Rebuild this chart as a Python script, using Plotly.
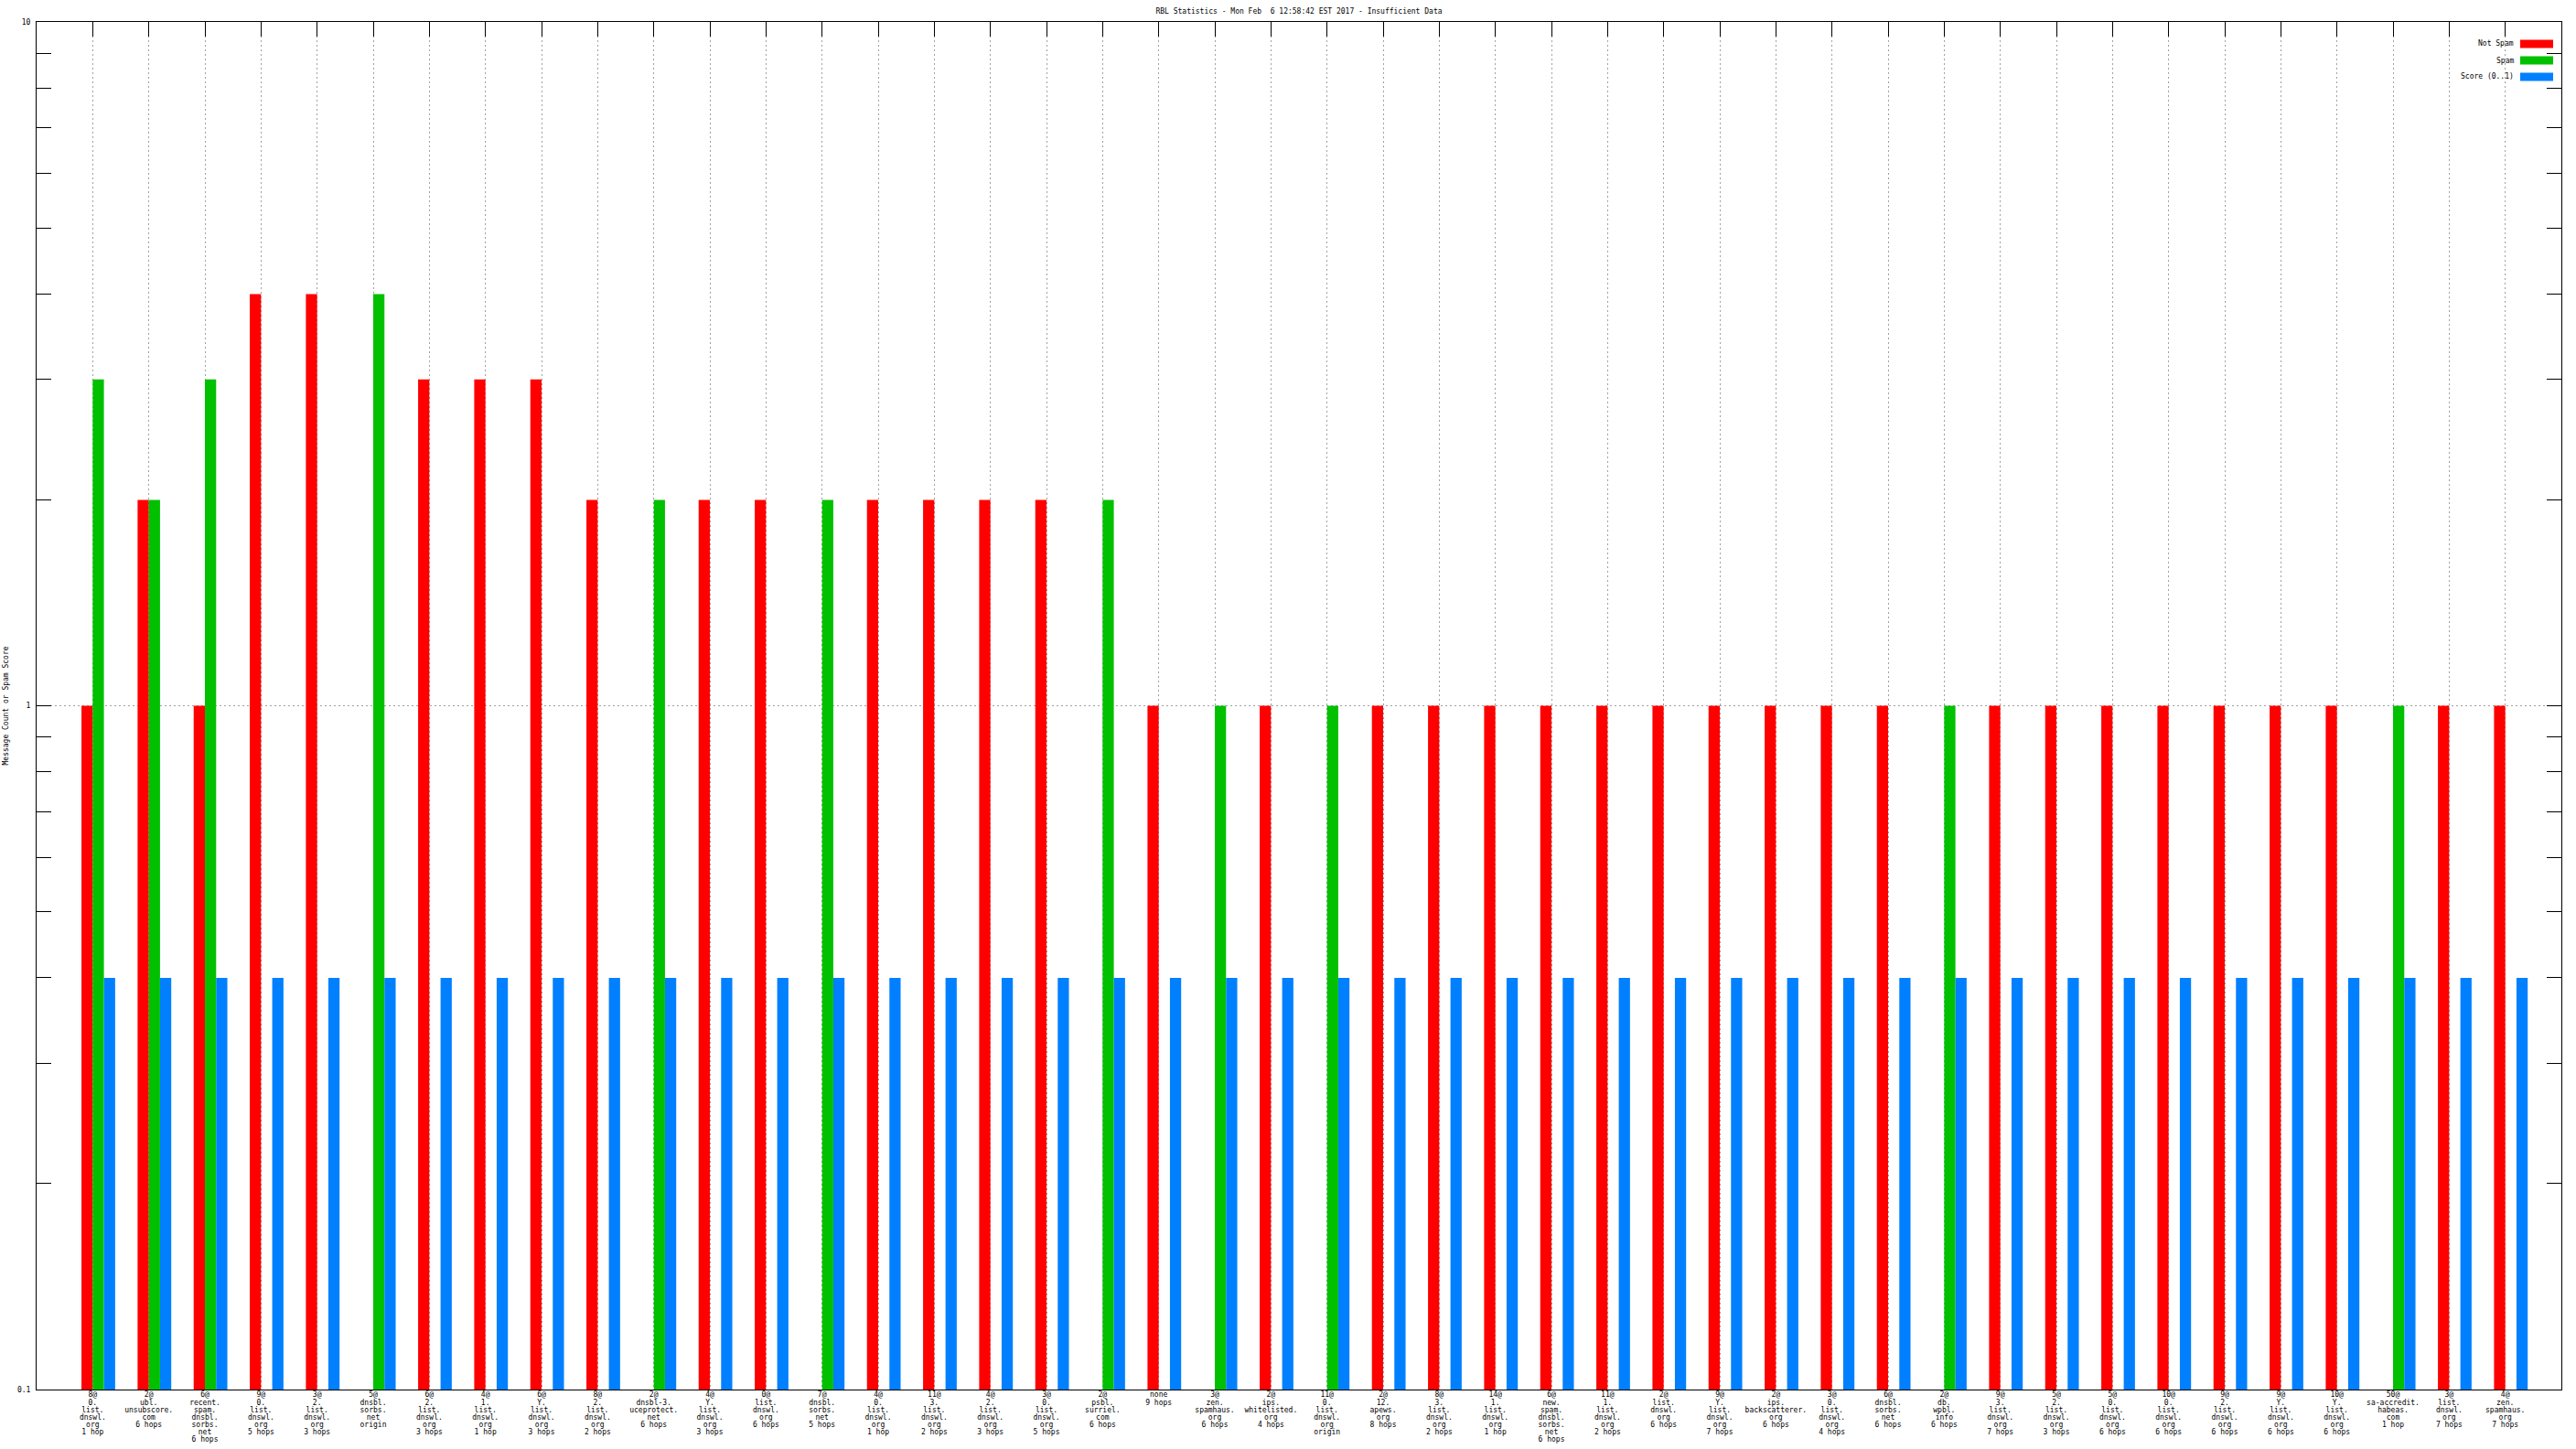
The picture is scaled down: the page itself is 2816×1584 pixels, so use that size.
import plotly.graph_objects as go

# ---------------- data ----------------
categories = [
    "8@\n0.\nlist.\ndnswl.\norg\n1 hop",
    "2@\nubl.\nunsubscore.\ncom\n6 hops",
    "6@\nrecent.\nspam.\ndnsbl.\nsorbs.\nnet\n6 hops",
    "9@\n0.\nlist.\ndnswl.\norg\n5 hops",
    "3@\n2.\nlist.\ndnswl.\norg\n3 hops",
    "5@\ndnsbl.\nsorbs.\nnet\norigin",
    "6@\n2.\nlist.\ndnswl.\norg\n3 hops",
    "4@\n1.\nlist.\ndnswl.\norg\n1 hop",
    "6@\nY.\nlist.\ndnswl.\norg\n3 hops",
    "8@\n2.\nlist.\ndnswl.\norg\n2 hops",
    "2@\ndnsbl-3.\nuceprotect.\nnet\n6 hops",
    "4@\nY.\nlist.\ndnswl.\norg\n3 hops",
    "0@\nlist.\ndnswl.\norg\n6 hops",
    "7@\ndnsbl.\nsorbs.\nnet\n5 hops",
    "4@\n0.\nlist.\ndnswl.\norg\n1 hop",
    "11@\n3.\nlist.\ndnswl.\norg\n2 hops",
    "4@\n2.\nlist.\ndnswl.\norg\n3 hops",
    "3@\n0.\nlist.\ndnswl.\norg\n5 hops",
    "2@\npsbl.\nsurriel.\ncom\n6 hops",
    "none\n9 hops",
    "3@\nzen.\nspamhaus.\norg\n6 hops",
    "2@\nips.\nwhitelisted.\norg\n4 hops",
    "11@\n0.\nlist.\ndnswl.\norg\norigin",
    "2@\n12.\napews.\norg\n8 hops",
    "8@\n3.\nlist.\ndnswl.\norg\n2 hops",
    "14@\n1.\nlist.\ndnswl.\norg\n1 hop",
    "6@\nnew.\nspam.\ndnsbl.\nsorbs.\nnet\n6 hops",
    "11@\n1.\nlist.\ndnswl.\norg\n2 hops",
    "2@\nlist.\ndnswl.\norg\n6 hops",
    "9@\nY.\nlist.\ndnswl.\norg\n7 hops",
    "2@\nips.\nbackscatterer.\norg\n6 hops",
    "3@\n0.\nlist.\ndnswl.\norg\n4 hops",
    "6@\ndnsbl.\nsorbs.\nnet\n6 hops",
    "2@\ndb.\nwpbl.\ninfo\n6 hops",
    "9@\n3.\nlist.\ndnswl.\norg\n7 hops",
    "5@\n2.\nlist.\ndnswl.\norg\n3 hops",
    "5@\n0.\nlist.\ndnswl.\norg\n6 hops",
    "10@\n0.\nlist.\ndnswl.\norg\n6 hops",
    "9@\n2.\nlist.\ndnswl.\norg\n6 hops",
    "9@\nY.\nlist.\ndnswl.\norg\n6 hops",
    "10@\nY.\nlist.\ndnswl.\norg\n6 hops",
    "50@\nsa-accredit.\nhabeas.\ncom\n1 hop",
    "3@\nlist.\ndnswl.\norg\n7 hops",
    "4@\nzen.\nspamhaus.\norg\n7 hops",
]

not_spam = [1, 2, 1, 4, 4, None, 3, 3, 3, 2, None, 2, 2, None, 2, 2, 2, 2, None, 1,
            None, 1, None, 1, 1, 1, 1, 1, 1, 1, 1, 1, 1, None, 1, 1, 1, 1, 1, 1,
            1, None, 1, 1]
spam = [3, 2, 3, None, None, 4, None, None, None, None, 2, None, None, 2, None, None, None, None, 2, None,
        1, None, 1, None, None, None, None, None, None, None, None, None, None, 1, None, None, None, None, None, None,
        None, 1, None, None]
score = [0.4, 0.4, 0.4, 0.4, 0.4, 0.4, 0.4, 0.4, 0.4, 0.4, 0.4, 0.4, 0.4, 0.4, 0.4, 0.4, 0.4, 0.4, 0.4, 0.4,
         0.4, 0.4, 0.4, 0.4, 0.4, 0.4, 0.4, 0.4, 0.4, 0.4, 0.4, 0.4, 0.4, 0.4, 0.4, 0.4, 0.4, 0.4, 0.4, 0.4,
         0.4, 0.4, 0.4, 0.4]

series_names = ["Not Spam", "Spam", "Score (0..1)"]
series_colors = ["#ff0000", "#00c000", "#0080ff"]

y_tick_vals = [0.1, 1, 10]
y_tick_text = ["0.1", "1", "10"]
y_minor_vals = [0.2, 0.3, 0.4, 0.5, 0.6, 0.7, 0.8, 0.9, 2, 3, 4, 5, 6, 7, 8, 9]

title_text = "RBL Statistics - Mon Feb  6 12:58:42 EST 2017 - Insufficient Data"
y_title = "Message Count or Spam Score"

# ---------------- layout constants ----------------
W, H = 2816, 1584
ML, MR, MT, MB = 40, 16, 24, 65
PW, PH = W - ML - MR, H - MT - MB
FONT = "DejaVu Sans Mono"
GRID = "#a0a0a0"


def px_x(p):
    return (p - ML) / PW


def px_y(p):
    return (H - MB - p) / PH


positions = list(range(len(categories)))


def fmt_label(s):
    return "<br>".join("<span style='font-size:8px'>%s</span>" % ln for ln in s.split("\n"))


tick_text = [fmt_label(c) for c in categories]

fig = go.Figure()
bar_w = 0.2
for vals, name, col, off in zip([not_spam, spam, score], series_names, series_colors,
                                [-bar_w, 0.0, bar_w]):
    fig.add_trace(go.Bar(x=positions, y=vals, name=name, width=bar_w, offset=off,
                         marker=dict(color=col, line=dict(width=0)), showlegend=False))

# dummy trace to realise the mirrored top axis
fig.add_trace(go.Scatter(x=[], y=[], xaxis="x2", yaxis="y", showlegend=False))

fig.update_layout(
    width=W, height=H,
    margin=dict(l=ML, r=MR, t=MT, b=MB, pad=0),
    paper_bgcolor="white", plot_bgcolor="white",
    barmode="overlay",
    font=dict(family=FONT, size=8, color="black"),
    title=dict(text=title_text, x=0.5, xref="paper", xanchor="center",
               y=1 - 12 / H, yref="container", yanchor="middle",
               font=dict(family=FONT, size=8, color="black")),
    xaxis=dict(range=[-1, len(categories)], tickmode="array", tickvals=positions,
               ticktext=tick_text, ticks="", showline=True, linecolor="black", linewidth=1,
               mirror=True, showgrid=True, gridcolor=GRID, griddash="2px,3px", gridwidth=1,
               zeroline=False, tickfont=dict(family=FONT, size=6.2, color="black"),
               tickangle=0, automargin=False),
    xaxis2=dict(range=[-1, len(categories)], overlaying="x", side="top", anchor="y",
                tickmode="array", tickvals=positions, ticks="inside", ticklen=16,
                tickwidth=1, tickcolor="black", showticklabels=False, showgrid=False,
                zeroline=False, showline=False),
    yaxis=dict(type="log", range=[-1, 1], tickmode="array", tickvals=y_tick_vals,
               ticktext=y_tick_text, ticks="inside", ticklen=16, tickwidth=1,
               tickcolor="black", showline=True, linecolor="black", linewidth=1,
               mirror="allticks", showgrid=True, gridcolor=GRID, griddash="2px,3px",
               gridwidth=1, zeroline=False, ticklabelstandoff=4,
               tickfont=dict(family=FONT, size=8, color="black"),
               minor=dict(tickmode="array", tickvals=y_minor_vals, ticks="inside",
                          ticklen=8, tickwidth=1, tickcolor="black", showgrid=False),
               automargin=False),
)

annotations = [
    dict(text=y_title, xref="paper", yref="paper", x=px_x(6), y=0.5, textangle=-90,
         showarrow=False, xanchor="center", yanchor="middle",
         font=dict(family=FONT, size=8, color="black")),
]
shapes = []
legend_rows = [48, 66, 84]
for name, col, ry in zip(series_names, series_colors, legend_rows):
    annotations.append(dict(text=name, xref="paper", yref="paper", x=px_x(2750), y=px_y(ry),
                            xanchor="right", yanchor="middle", showarrow=False,
                            font=dict(family=FONT, size=8, color="black")))
    shapes.append(dict(type="rect", xref="paper", yref="paper",
                       x0=px_x(2755), x1=px_x(2791), y0=px_y(ry + 4.5), y1=px_y(ry - 4.5),
                       fillcolor=col, line=dict(width=0)))
fig.update_layout(annotations=annotations, shapes=shapes)

fig.write_html("out.html", config={"displayModeBar": False},
               post_script="document.body.style.margin='0';")
